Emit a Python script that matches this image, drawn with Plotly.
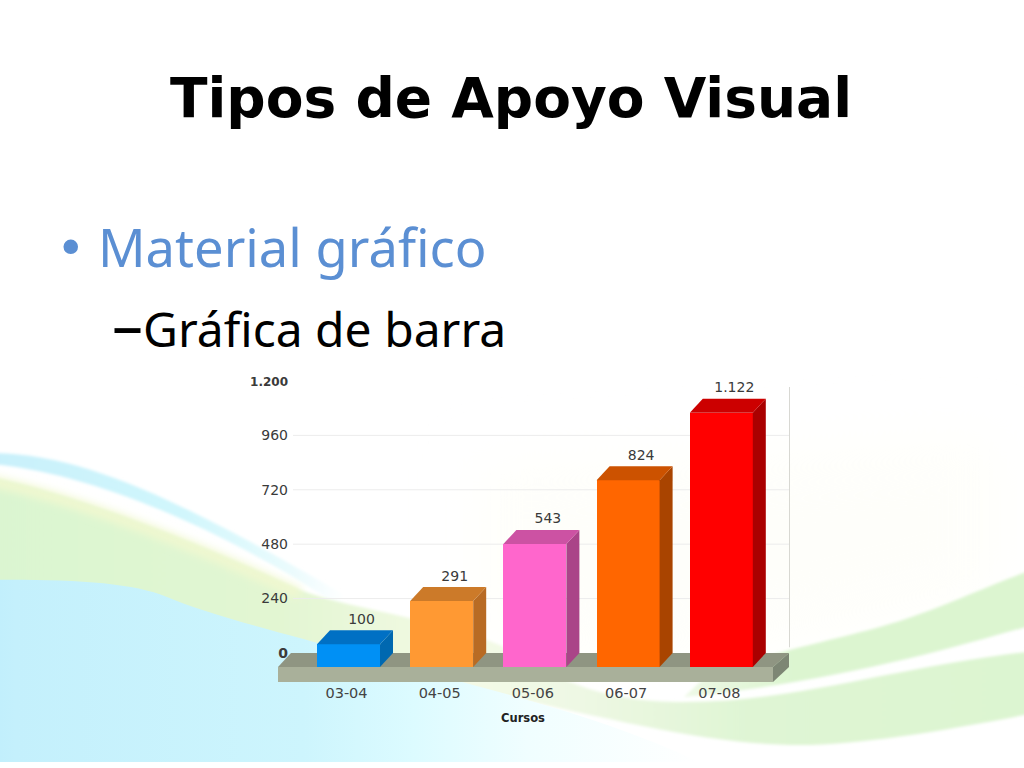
import base64
import plotly.graph_objects as go

categories = ["03-04", "04-05", "05-06", "06-07", "07-08"]
values = [100, 291, 543, 824, 1122]
value_labels = ["100", "291", "543", "824", "1.122"]
front_colors = ["#0090f5", "#ff9933", "#ff66cc", "#ff6600", "#ff0000"]
top_colors = ["#0070c4", "#cc7a29", "#cc52a3", "#cc5200", "#cc0000"]
side_colors = ["#0068b0", "#b86b24", "#aa4488", "#a94400", "#aa0000"]
y_ticks = [0, 240, 480, 720, 960, 1200]
y_tick_labels = ["<b>0</b>", "240", "480", "720", "960", "<span style='font-size:12px'><b>1.200</b></span>"]
grid_values = [240, 480, 720, 960]

W, H = 1024, 768
PX_PER_UNIT = 0.2267
PX_PER_CAT = 93.2
X0_PX = 348.5
BASE_PX = 667
DX = 13 / PX_PER_CAT      # depth offset, category units
DY = 14 / PX_PER_UNIT     # depth offset, value units
BAR_W = 63 / PX_PER_CAT
LABEL_LIFT = 3 / PX_PER_UNIT
TICK_SHIFT = 2 / PX_PER_CAT

def xpx(p):
    return (p - X0_PX) / PX_PER_CAT

def ypx(p):
    return (BASE_PX - p) / PX_PER_UNIT

bg_svg = f'''<svg xmlns="http://www.w3.org/2000/svg" width="{W}" height="{H}" viewBox="0 0 {W} {H}">
<defs>
<linearGradient id="blue" x1="0" x2="1" y1="0" y2="0"><stop offset="0" stop-color="#bfeefc"/><stop offset=".05" stop-color="#c4f0fc"/><stop offset=".45" stop-color="#cdf5fd"/><stop offset=".6" stop-color="#dcfbff"/><stop offset=".76" stop-color="#f0feff"/><stop offset="1" stop-color="#ffffff"/></linearGradient>
<linearGradient id="green" x1="0" x2="1" y1="0" y2="0"><stop offset="0" stop-color="#daf5d0"/><stop offset=".28" stop-color="#e2f6d2"/><stop offset=".46" stop-color="#f4fae6"/><stop offset=".56" stop-color="#eef8e4"/><stop offset=".72" stop-color="#dff5d4"/><stop offset="1" stop-color="#dcf5d0"/></linearGradient>
<linearGradient id="sky" x1="0" x2="1" y1="0" y2="0"><stop offset="0" stop-color="#c8f0fb"/><stop offset=".55" stop-color="#d0f6fc"/><stop offset=".85" stop-color="#eafbfd"/><stop offset="1" stop-color="#ffffff"/></linearGradient>
<linearGradient id="rg" x1="0" x2="1" y1="0" y2="0"><stop offset="0" stop-color="#eef9e6"/><stop offset=".3" stop-color="#dcf5d0"/><stop offset="1" stop-color="#dcf5d0"/></linearGradient>
<filter id="b2" x="-10%" y="-10%" width="120%" height="120%"><feGaussianBlur stdDeviation="1.5"/></filter>
<filter id="b4" x="-10%" y="-30%" width="120%" height="160%"><feGaussianBlur stdDeviation="4"/></filter>
<filter id="b30" x="-30%" y="-30%" width="160%" height="160%"><feGaussianBlur stdDeviation="30"/></filter>
</defs>
<rect width="{W}" height="{H}" fill="#ffffff"/>
<path d="M480 470 L1000 440 L1000 590 L800 640 L600 660 L480 620 Z" fill="#fefefa" filter="url(#b30)"/>
<path d="M-20 453 C80 450 180 500 345 595 L345 610 C250 545 100 470 -20 463 Z" fill="url(#sky)" filter="url(#b2)"/>
<path d="M-20 475 C60 490 170 530 300 590 C360 612 450 620 510 650 C560 680 600 702 684 702 C800 702 900 665 1044 650 L1044 711 C950 730 860 745 800 745 C700 745 600 715 473 690 C350 655 220 625 167 602 C130 587 70 584 -20 585 Z" fill="url(#green)" filter="url(#b2)"/>
<path d="M-20 479 C60 494 170 534 300 594" fill="none" stroke="#f1f8d0" stroke-width="11" filter="url(#b4)"/>
<path d="M-20 580 C70 579 130 582 167 597 C220 620 350 650 473 685 C560 708 630 730 700 762 L-20 762 Z" fill="url(#blue)"/>
<path d="M700 682 C760 650 850 640 917 615 C960 600 1000 580 1044 566 L1044 622 C960 645 850 680 684 697 Z" fill="url(#rg)" filter="url(#b2)"/>
<rect x="0" y="762" width="{W}" height="6" fill="#ffffff"/>
</svg>'''
bg_uri = "data:image/svg+xml;base64," + base64.b64encode(bg_svg.encode()).decode()

fig = go.Figure()

# back wall: gridlines and right edge (primary axes, drawn first)
grid_x, grid_y = [], []
for g in grid_values:
    grid_x += [0.004, 0.998, None]
    grid_y += [g, g, None]
fig.add_trace(go.Scatter(
    x=grid_x, y=grid_y, mode="lines", line=dict(color="#ececec", width=1),
    xaxis="x", yaxis="y", hoverinfo="skip", showlegend=False))
fig.add_trace(go.Scatter(
    x=[1, 1], y=[25, 1173], mode="lines", line=dict(color="#cbcbc4", width=1.5),
    xaxis="x", yaxis="y", hoverinfo="skip", showlegend=False))

# front faces
fig.add_trace(go.Bar(
    x=list(range(len(categories))), y=values, width=BAR_W, marker=dict(color=front_colors, line=dict(width=0)),
    xaxis="x2", yaxis="y2", hoverinfo="skip", showlegend=False))

# side and top faces
for i, v in enumerate(values):
    l, r = i - BAR_W / 2, i + BAR_W / 2
    fig.add_trace(go.Scatter(
        x=[r, r + DX, r + DX, r, r], y=[0, DY, v + DY, v, 0], fill="toself", mode="lines",
        fillcolor=side_colors[i], line=dict(width=0, color=side_colors[i]),
        xaxis="x2", yaxis="y2", hoverinfo="skip", showlegend=False))
    fig.add_trace(go.Scatter(
        x=[l, l + DX, r + DX, r, l], y=[v, v + DY, v + DY, v, v], fill="toself", mode="lines",
        fillcolor=top_colors[i], line=dict(width=0, color=top_colors[i]),
        xaxis="x2", yaxis="y2", hoverinfo="skip", showlegend=False))

# value labels
fig.add_trace(go.Scatter(
    x=[i + DX for i in range(len(values))], y=[v + DY + LABEL_LIFT for v in values], mode="text",
    text=value_labels, textposition="top center",
    textfont=dict(family="DejaVu Sans", size=14, color="#3a3a3a"),
    xaxis="x2", yaxis="y2", hoverinfo="skip", showlegend=False))

floor = [
    (f"M {xpx(278)} {ypx(667)} L {xpx(291)} {ypx(653)} L {xpx(789)} {ypx(653)} L {xpx(773)} {ypx(667)} Z", "#8f9582"),
    (f"M {xpx(278)} {ypx(667)} L {xpx(773)} {ypx(667)} L {xpx(773)} {ypx(682)} L {xpx(278)} {ypx(682)} Z", "#a9b09a"),
    (f"M {xpx(773)} {ypx(667)} L {xpx(789)} {ypx(653)} L {xpx(789)} {ypx(667)} L {xpx(773)} {ypx(682)} Z", "#7d8674"),
]

fig.update_layout(
    width=W, height=H, margin=dict(l=0, r=0, t=0, b=0), autosize=False,
    paper_bgcolor="#ffffff", plot_bgcolor="rgba(0,0,0,0)", showlegend=False, bargap=0,
    images=[dict(source=bg_uri, xref="paper", yref="paper", x=0, y=1, sizex=1, sizey=1,
                 sizing="stretch", xanchor="left", yanchor="top", layer="below")],
    shapes=[dict(type="path", path=p, xref="x2", yref="y2", fillcolor=c, line=dict(width=0), layer="below")
            for p, c in floor],
    xaxis=dict(domain=[291 / W, 790 / W], range=[0, 1], visible=False, fixedrange=True),
    yaxis=dict(domain=[0, 1], range=[(653 - H) / PX_PER_UNIT, 653 / PX_PER_UNIT], anchor="x",
               tickmode="array", tickvals=y_ticks, ticktext=y_tick_labels, ticks="",
               tickfont=dict(family="DejaVu Sans", size=14, color="#3a3a3a"),
               showgrid=False, zeroline=False, showline=False,
               ticklabelstandoff=2, fixedrange=True),
    xaxis2=dict(domain=[0, 1], range=[xpx(0), xpx(W)], anchor="free", position=1 - 682 / H,
                tickmode="array", tickvals=[i - TICK_SHIFT for i in range(len(categories))], ticktext=categories,
                ticks="", showgrid=False, zeroline=False, showline=False, side="bottom",
                tickfont=dict(family="DejaVu Sans", size=14.5, color="#444444"), fixedrange=True),
    yaxis2=dict(domain=[0, 1], range=[ypx(H), ypx(0)], anchor="x2", visible=False, fixedrange=True),
    annotations=[
        dict(text="<b>Tipos de Apoyo Visual</b>", x=511 / W, y=1 - 98 / H, xref="paper", yref="paper",
             xanchor="center", yanchor="middle", showarrow=False,
             font=dict(family="DejaVu Sans", size=55, color="#000000")),
        dict(text="•", x=71 / W, y=1 - 248 / H, xref="paper", yref="paper", xanchor="center", yanchor="middle",
             showarrow=False, font=dict(family="DejaVu Sans", size=50, color="#5b8fd3")),
        dict(text="Material gráfico", x=96 / W, y=1 - 246 / H, xref="paper", yref="paper", xanchor="left",
             yanchor="middle", showarrow=False, font=dict(family="Noto Sans", size=52.5, color="#5b8fd3")),
        dict(text="<span style='font-size:62px'>–</span>Gráfica de barra", x=110 / W,
             y=1 - 323 / H, xref="paper", yref="paper", xanchor="left",
             yanchor="middle", showarrow=False, font=dict(family="Noto Sans", size=48, color="#000000")),
        dict(text="<b>Cursos</b>", x=523 / W, y=1 - 718 / H, xref="paper", yref="paper", xanchor="center",
             yanchor="middle", showarrow=False, font=dict(family="DejaVu Sans", size=11.5, color="#222222")),
    ],
)

fig.write_html("out.html", include_plotlyjs=True, config={"displayModeBar": False},
               post_script="document.body.style.margin='0';document.body.style.overflow='hidden';")
